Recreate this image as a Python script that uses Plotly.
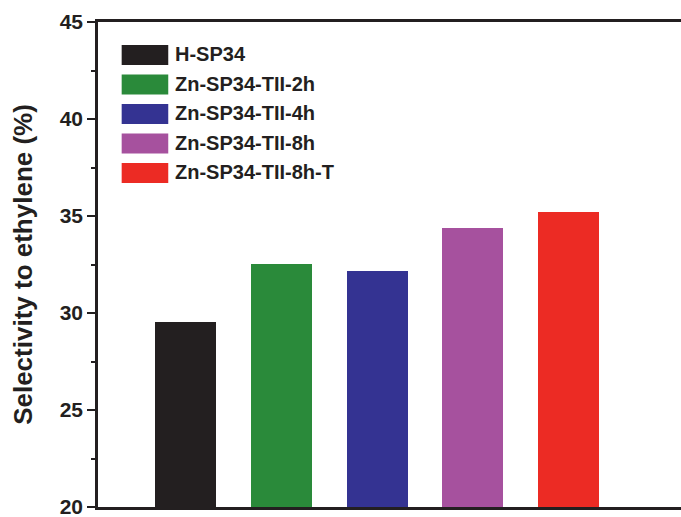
import plotly.graph_objects as go

categories = ["H-SP34", "Zn-SP34-TII-2h", "Zn-SP34-TII-4h", "Zn-SP34-TII-8h", "Zn-SP34-TII-8h-T"]
selectivity = [29.56, 32.55, 32.19, 34.36, 35.20]
colors = ["#231f20", "#2a8a3a", "#343392", "#a6519e", "#ec2b24"]
y_ticks = [20, 25, 30, 35, 40, 45]

FONT = "Liberation Sans, Arial, Helvetica, sans-serif"
INK = "#231f20"

W, H = 681, 517
M_L, M_R, M_T, M_B = 98, 0, 22, 10
PH = H - M_T - M_B

fig = go.Figure()
for i, (name, val, col) in enumerate(zip(categories, selectivity, colors)):
    fig.add_trace(go.Bar(x=[i], y=[val], name=name, marker=dict(color=col, line=dict(width=0)),
                         width=0.637, showlegend=False))

# legend drawn as swatches + labels (paper coordinates)
leg_x0, leg_x1 = 0.0406, 0.1205
leg_top = 1 - (55 - M_T) / PH
step = 29.5 / PH
sw_h = 20 / PH
for i, (name, col) in enumerate(zip(categories, colors)):
    yc = leg_top - i * step
    fig.add_shape(type="rect", xref="paper", yref="paper", x0=leg_x0, x1=leg_x1,
                  y0=yc - sw_h / 2, y1=yc + sw_h / 2, fillcolor=col, line=dict(width=0))
    fig.add_annotation(xref="paper", yref="paper", x=leg_x1 + 0.008, y=yc + 0.002, text="<b>" + name + "</b>",
                       showarrow=False, xanchor="left", yanchor="middle",
                       font=dict(family=FONT, size=20, color=INK))

fig.update_layout(
    width=W, height=H,
    margin=dict(l=M_L, r=M_R, t=M_T, b=M_B),
    paper_bgcolor="white", plot_bgcolor="white",
    bargap=0,
    xaxis=dict(range=[-0.917, 5.175], showticklabels=False, ticks="", showgrid=False, automargin=False,
               zeroline=False, showline=True, linecolor=INK, linewidth=2.5, mirror=True),
    yaxis=dict(range=[20, 45], tickvals=y_ticks, ticktext=["<b>%d</b>" % t for t in y_ticks],
               automargin=False, ticklabeloverflow="allow",
               ticks="outside", ticklen=8, tickwidth=2, tickcolor=INK,
               minor=dict(dtick=2.5, ticks="outside", ticklen=4, tickwidth=2, tickcolor=INK),
               showgrid=False, zeroline=False, showline=True, linecolor=INK, linewidth=2.5,
               tickfont=dict(family=FONT, size=21, color=INK),
               title=dict(text="<b>Selectivity to ethylene (%)</b>", standoff=20,
                          font=dict(family=FONT, size=26, color=INK))),
)
fig.write_html("out.html", config={"displayModeBar": False},
               post_script="document.body.style.margin='0';document.body.style.overflow='hidden';")
